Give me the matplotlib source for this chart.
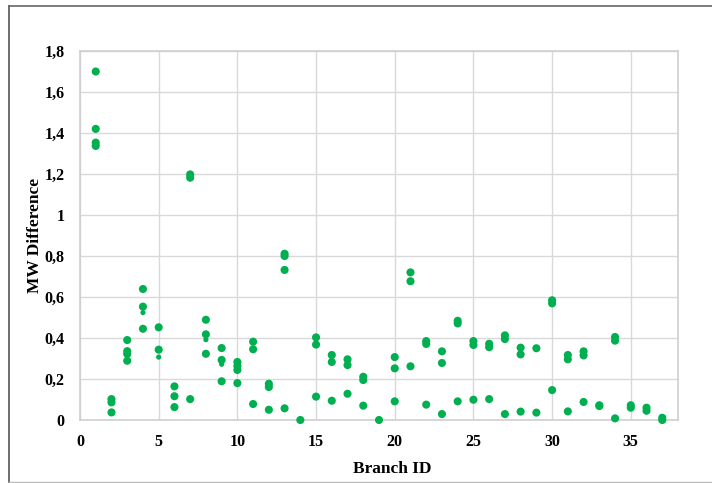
import matplotlib
matplotlib.use("Agg")
import matplotlib.pyplot as plt
from matplotlib.lines import Line2D
from matplotlib.ticker import MultipleLocator, FuncFormatter

# Branch IDs and MW differences (main markers)
branch_ids = [1, 1, 1, 1,
              2, 2, 2,
              3, 3, 3, 3,
              4, 4, 4,
              5, 5,
              6, 6, 6,
              7, 7, 7,
              8, 8, 8,
              9, 9, 9,
              10, 10, 10, 10,
              11, 11, 11,
              12, 12, 12,
              13, 13, 13, 13,
              14,
              15, 15, 15,
              16, 16, 16,
              17, 17, 17,
              18, 18, 18,
              19,
              20, 20, 20,
              21, 21, 21,
              22, 22, 22,
              23, 23, 23,
              24, 24, 24,
              25, 25, 25,
              26, 26, 26,
              27, 27, 27,
              28, 28, 28,
              29, 29,
              30, 30, 30,
              31, 31, 31,
              32, 32, 32,
              33, 33,
              34, 34, 34,
              35, 35,
              36, 36,
              37, 37]
mw_diff = [1.70, 1.42, 1.353, 1.337,
           0.102, 0.086, 0.037,
           0.390, 0.336, 0.322, 0.289,
           0.639, 0.553, 0.445,
           0.452, 0.343,
           0.164, 0.116, 0.063,
           1.198, 1.182, 0.102,
           0.489, 0.418, 0.323,
           0.351, 0.293, 0.189,
           0.283, 0.263, 0.244, 0.180,
           0.382, 0.345, 0.078,
           0.177, 0.161, 0.050,
           0.811, 0.800, 0.732, 0.057,
           0.0,
           0.403, 0.368, 0.114,
           0.317, 0.283, 0.094,
           0.296, 0.268, 0.128,
           0.211, 0.195, 0.070,
           0.0,
           0.307, 0.252, 0.091,
           0.720, 0.677, 0.262,
           0.385, 0.371, 0.075,
           0.335, 0.278, 0.029,
           0.484, 0.471, 0.091,
           0.385, 0.366, 0.099,
           0.372, 0.355, 0.102,
           0.413, 0.395, 0.029,
           0.353, 0.320, 0.041,
           0.350, 0.036,
           0.584, 0.569, 0.146,
           0.317, 0.296, 0.042,
           0.335, 0.315, 0.088,
           0.072, 0.068,
           0.405, 0.387, 0.008,
           0.072, 0.060,
           0.060, 0.045,
           0.011, 0.0]

# Smaller markers
small_ids = [4, 5, 8, 9]
small_diff = [0.524, 0.307, 0.392, 0.272]

x_ticks = [0, 5, 10, 15, 20, 25, 30, 35]

green = "#00B050"
grid_c = "#D9D9D9"

plt.rcParams['font.family'] = ['Liberation Serif', 'DejaVu Serif']

fig = plt.figure(figsize=(7.12, 4.83), dpi=100)
ax = fig.add_axes([80/712, 1-420/483, (678-80)/712, (420-51)/483])

ax.scatter(branch_ids, mw_diff, s=34, color=green, edgecolors='none', zorder=3, clip_on=False)
ax.scatter(small_ids, small_diff, s=14, color=green, edgecolors='none', zorder=3, clip_on=False)

ax.set_xlim(0, 38)
ax.set_ylim(0, 1.8)
ax.set_xticks(x_ticks)
ax.yaxis.set_major_locator(MultipleLocator(0.2))

def yfmt(v, pos):
    s = ("%.1f" % v)
    if s.endswith(".0"):
        s = s[:-2]
    return s.replace(".", ",")
ax.yaxis.set_major_formatter(FuncFormatter(yfmt))

ax.grid(True, color=grid_c, linewidth=1.0, zorder=0)
ax.set_axisbelow(True)
for sp in ax.spines.values():
    sp.set_color("#CFCFCF")
    sp.set_linewidth(1.2)

ax.tick_params(axis='both', length=0, labelsize=11.5)
ax.tick_params(axis='y', pad=11)
ax.tick_params(axis='x', pad=10)
for lbl in ax.get_xticklabels() + ax.get_yticklabels():
    lbl.set_fontweight('bold')

ax.set_xlabel("Branch ID", fontsize=12.5, fontweight='bold', va='center', ha='center')
ax.xaxis.set_label_coords((392-80)/598, -(469-420)/369)
ax.set_ylabel("MW Difference", fontsize=12.5, fontweight='bold', va='center', ha='center')
ax.yaxis.set_label_coords(-(80-35)/598, 0.5)

# outer chart frame
fig.add_artist(Line2D([9/712, 9/712], [1-6/483, 1-482/483], transform=fig.transFigure, color="#555555", linewidth=1.2))
fig.add_artist(Line2D([9/712, 1.0], [1-6/483, 1-6/483], transform=fig.transFigure, color="#666666", linewidth=1.2))
fig.add_artist(Line2D([9/712, 1.0], [1-481.5/483, 1-481.5/483], transform=fig.transFigure, color="#BBBBBB", linewidth=1.0))

fig.savefig("out.png", dpi=100)
